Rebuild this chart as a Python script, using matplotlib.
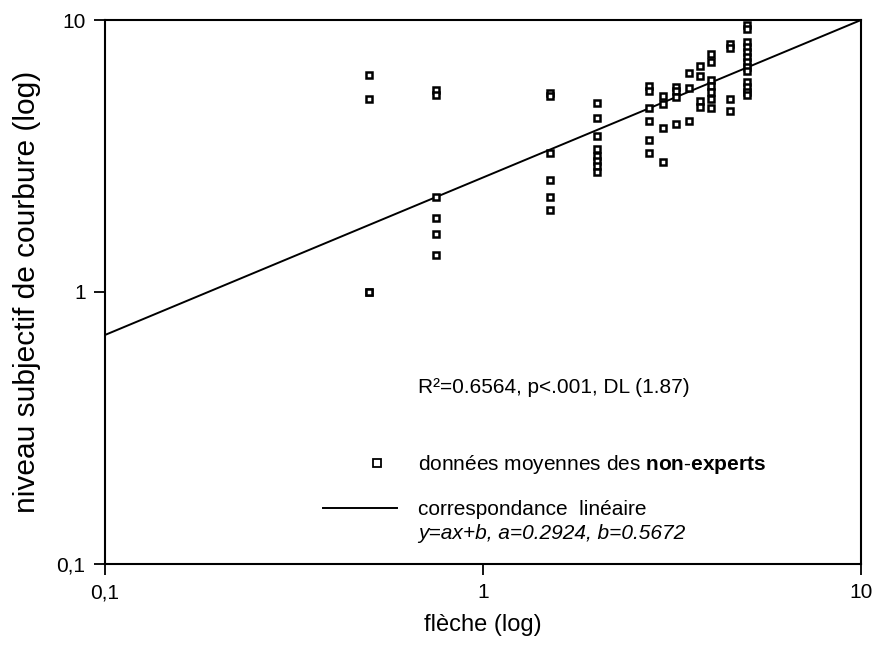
#!/usr/bin/python3

# log-log scatter: subjective curvature level vs. sagitta (non-experts)

import matplotlib
matplotlib.use('Agg')
import matplotlib.pyplot as plt
from matplotlib.ticker import FixedLocator, FuncFormatter, NullLocator
from matplotlib.lines import Line2D

plt.rcParams['font.family'] = ['Liberation Sans', 'DejaVu Sans']
plt.rcParams['mathtext.fontset'] = 'custom'
plt.rcParams['mathtext.rm'] = 'Liberation Sans'
plt.rcParams['mathtext.bf'] = 'Liberation Sans:bold'
plt.rcParams['mathtext.it'] = 'Liberation Sans:italic'

# mean data of the non-experts, one list of y per x column
fleche = [0.5, 0.75, 1.5, 2, 2.75, 3, 3.25, 3.5, 3.75, 4, 4.5, 5]
niveau = [
    [6.28, 5.11, 1.0, 1.0],
    [5.53, 5.28, 2.24, 1.87, 1.63, 1.37],
    [5.37, 5.25, 3.24, 2.59, 2.23, 2.0],
    [4.97, 4.36, 3.76, 3.35, 3.16, 3.03, 2.91, 2.76],
    [5.71, 5.48, 4.74, 4.26, 3.62, 3.24],
    [5.26, 4.90, 4.01, 3.00],
    [5.67, 5.48, 5.21, 4.15],
    [6.38, 5.62, 4.26],
    [6.78, 6.25, 5.03, 4.79],
    [7.50, 7.01, 6.01, 5.71, 5.43, 5.13, 4.74],
    [8.17, 7.89, 5.13, 4.62],
    [9.59, 9.27, 8.30, 7.96, 7.63, 7.31, 7.01, 6.72, 6.49, 5.92, 5.67, 5.44, 5.30],
]

# linear fit (in log coordinates), drawn across the axis range
fit_x = [0.1, 10]
fit_y = [0.695, 10]

ticks = [0.1, 1, 10]
tick_labels = ['0,1', '1', '10']


def fmt(v, pos):
    return tick_labels[ticks.index(v)] if v in ticks else ''


fig = plt.figure(figsize=(8.75, 6.46), dpi=100)
ax = fig.add_axes([0.12, 0.127, 0.864, 0.842])

xs, ys = [], []
for x, col in zip(fleche, niveau):
    xs += [x] * len(col)
    ys += col

ax.plot(fit_x, fit_y, color='black', lw=1.4, zorder=2)
ax.plot(xs, ys, ls='none', marker='s', ms=4, mfc='white', mec='black',
        mew=1.8, zorder=3)

ax.set_xscale('log')
ax.set_yscale('log')
ax.set_xlim(0.1, 10)
ax.set_ylim(0.1, 10)
for axis in [ax.xaxis, ax.yaxis]:
    axis.set_major_locator(FixedLocator(ticks))
    axis.set_minor_locator(NullLocator())
    axis.set_major_formatter(FuncFormatter(fmt))
ax.tick_params(direction='out', length=8, width=1.3, labelsize=15, pad=6)
for s in ax.spines.values():
    s.set_linewidth(1.5)

ax.set_xlabel('flèche (log)', fontsize=17, labelpad=8)
ax.set_ylabel('niveau subjectif de courbure (log)', fontsize=21.5, labelpad=11)

ax.text(0.414, 0.3235, 'R²=0.6564, p<.001, DL (1.87)', transform=ax.transAxes,
        fontsize=15, va='center', ha='left')

# legend: marker entry and line entry, each placed on its own
h1 = Line2D([], [], ls='none', marker='s', ms=6, mfc='white', mec='black', mew=1.3)
leg1 = ax.legend([h1], [r'données moyennes des $\mathbf{non}$-$\mathbf{experts}$'],
                 loc='center left', bbox_to_anchor=(0.346, 0.182), frameon=False,
                 fontsize=15, borderpad=0, borderaxespad=0, handlelength=1.0,
                 handletextpad=1.47)
ax.add_artist(leg1)
h2 = Line2D([], [], color='black', lw=1.4)
ax.legend([h2], ['correspondance  linéaire'], loc='center left',
          bbox_to_anchor=(0.2884, 0.0993), frameon=False, fontsize=15,
          borderpad=0, borderaxespad=0, handlelength=3.55, handletextpad=1.0)
ax.text(0.414, 0.0551, 'y=ax+b, a=0.2924, b=0.5672', transform=ax.transAxes,
        fontsize=15, style='italic', va='center', ha='left')

fig.savefig('out.png', dpi=100)
